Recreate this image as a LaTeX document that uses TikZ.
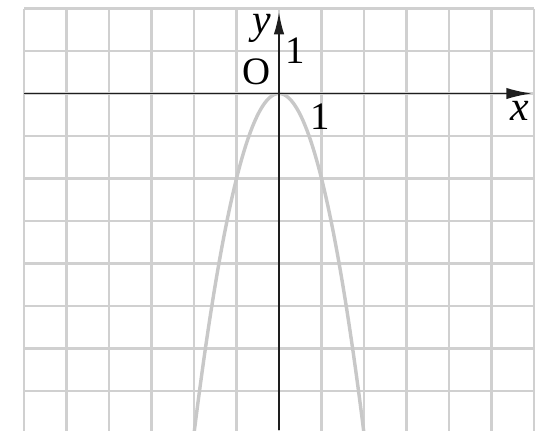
\documentclass[tikz,border=0pt]{standalone}
\usepackage{fontspec}
\setmainfont{Liberation Serif}
\usetikzlibrary{arrows.meta}
\begin{document}
\begin{tikzpicture}[x=1cm,y=1cm,
  gridline/.style={draw={rgb,255:red,208;green,208;blue,208},line width=1.4pt},
  axisline/.style={draw={rgb,255:red,30;green,30;blue,30},line width=1.3pt},
  curve/.style={draw={rgb,255:red,200;green,200;blue,200},line width=2.3pt},
  lbl/.style={inner sep=0pt,font=\fontsize{26}{30}\selectfont},
  ilbl/.style={inner sep=0pt,font=\fontsize{28}{32}\selectfont\itshape}]
\useasboundingbox (-6.565,-7.918) rectangle (6.329,2.2);
\begin{scope}
\clip (-6.565,-7.918) rectangle (6.329,2.2);
\foreach \i in {-6,...,6} \draw[gridline] (\i,2) -- (\i,-8.2);
\foreach \j in {2,1,...,-7} \draw[gridline] (-6,\j) -- (6,\j);
\draw[curve] plot[domain=-2.02:2.02,samples=120,smooth] (\x,{-2*\x*\x});
\end{scope}
\coordinate (xl) at (-6,0);
\coordinate (xr) at (5.95,0);
\coordinate (yb) at (0,-7.918);
\coordinate (yt) at (0,1.92);
\draw[axisline,-{Latex[length=17pt,width=7.5pt]}] (xl) -- (xr);
\draw[axisline,-{Latex[length=15pt,width=7pt]}] (yb) -- (yt);
\node[ilbl] (ylab) at (-0.40,1.54) {y};
\node[lbl] (one1) at (0.38,1.0) {1};
\node[lbl] (orig) at (-0.52,0.51) {O};
\node[lbl] (one2) at (0.96,-0.55) {1};
\node[ilbl] (xlab) at (5.67,-0.42) {x};
\end{tikzpicture}
\end{document}
